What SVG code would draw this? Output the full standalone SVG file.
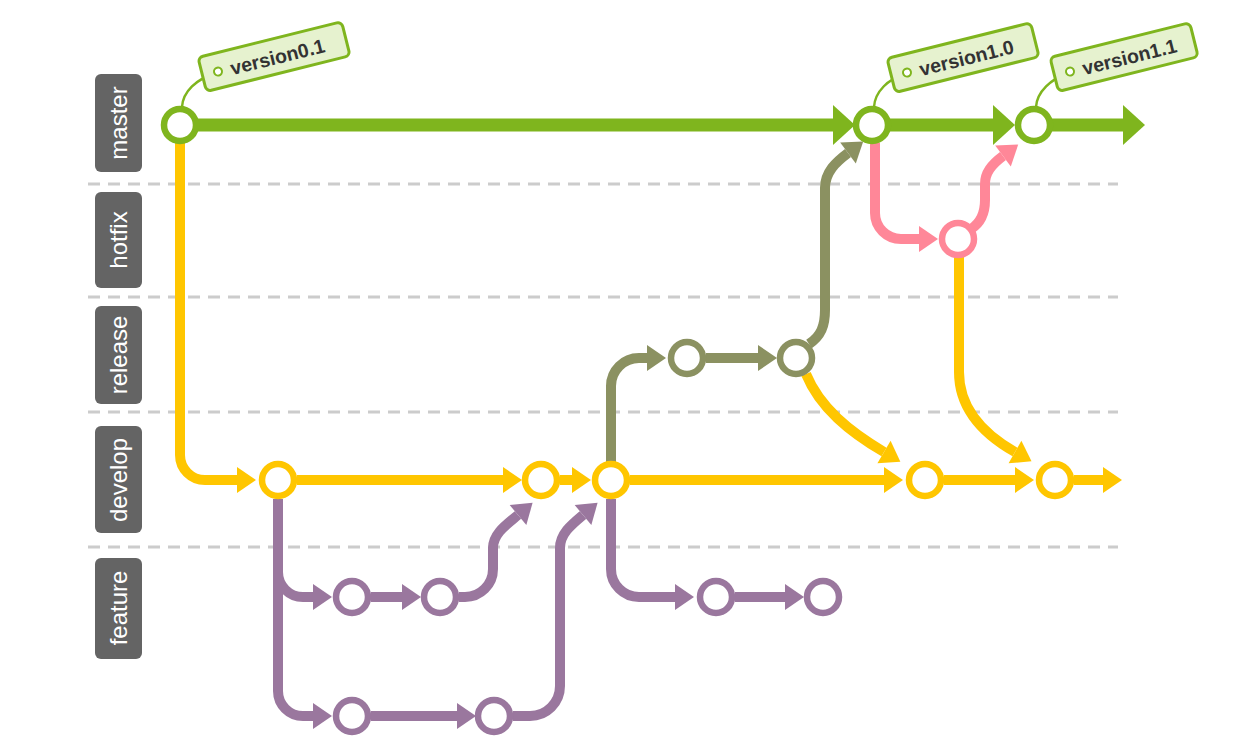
<svg xmlns="http://www.w3.org/2000/svg" width="1243" height="750" viewBox="0 0 1243 750">
<style>
.lane{fill:#646464}
.lanetxt{font-family:"Liberation Sans",Arial,sans-serif;font-size:24px;fill:#ffffff;text-anchor:middle}
.sep{stroke:#cccccc;stroke-width:3;stroke-dasharray:12 8;fill:none}
.c{fill:none;stroke-width:10;stroke-linecap:butt}
.m{stroke:#7fb51e;stroke-width:13}
.d{stroke:#ffc600}
.f{stroke:#9a779e}
.r{stroke:#8b9161}
.h{stroke:#ff8798}
.node{fill:#ffffff;stroke-width:6.5}
.nm{stroke:#7fb51e}.nd{stroke:#ffc600}.nf{stroke:#9a779e}.nr{stroke:#8b9161}.nh{stroke:#ff8798}
.tag rect{fill:#e6f2cf;stroke:#7fb51e;stroke-width:3}
.tag circle{fill:#ffffff;stroke:#7fb51e;stroke-width:2}
.tag text{font-family:"Liberation Sans",Arial,sans-serif;font-size:19.5px;font-weight:bold;fill:#333333}
.string{fill:none;stroke:#7fb51e;stroke-width:2.5}
</style>
<defs>
<marker id="am" markerUnits="userSpaceOnUse" markerWidth="24" markerHeight="42" refX="0" refY="20" orient="auto" overflow="visible"><path d="M0,0 L22,20 L0,40 Z" fill="#7fb51e"/></marker>
<marker id="ad" markerUnits="userSpaceOnUse" markerWidth="20" markerHeight="28" refX="0" refY="13" orient="auto" overflow="visible"><path d="M0,0 L19,13 L0,26 Z" fill="#ffc600"/></marker>
<marker id="af" markerUnits="userSpaceOnUse" markerWidth="20" markerHeight="28" refX="0" refY="13" orient="auto" overflow="visible"><path d="M0,0 L19,13 L0,26 Z" fill="#9a779e"/></marker>
<marker id="ar" markerUnits="userSpaceOnUse" markerWidth="20" markerHeight="28" refX="0" refY="13" orient="auto" overflow="visible"><path d="M0,0 L19,13 L0,26 Z" fill="#8b9161"/></marker>
<marker id="ah" markerUnits="userSpaceOnUse" markerWidth="20" markerHeight="28" refX="0" refY="13" orient="auto" overflow="visible"><path d="M0,0 L19,13 L0,26 Z" fill="#ff8798"/></marker>
</defs>
<rect width="1243" height="750" fill="#ffffff"/>

<g id="separators">
<line class="sep" x1="88" y1="184" x2="1118" y2="184"/>
<line class="sep" x1="88" y1="297" x2="1118" y2="297"/>
<line class="sep" x1="88" y1="412" x2="1118" y2="412"/>
<line class="sep" x1="88" y1="547" x2="1118" y2="547"/>
</g>

<g id="lane-master"><rect class="lane" x="95" y="74" width="47" height="98" rx="6"/><text class="lanetxt" transform="translate(127,123) rotate(-90)">master</text></g>
<g id="lane-hotfix"><rect class="lane" x="95" y="192" width="47" height="96" rx="6"/><text class="lanetxt" transform="translate(127,240) rotate(-90)">hotfix</text></g>
<g id="lane-release"><rect class="lane" x="95" y="306" width="47" height="98" rx="6"/><text class="lanetxt" transform="translate(127,355) rotate(-90)">release</text></g>
<g id="lane-develop"><rect class="lane" x="95" y="426" width="47" height="107" rx="6"/><text class="lanetxt" transform="translate(127,480) rotate(-90)">develop</text></g>
<g id="lane-feature"><rect class="lane" x="95" y="558" width="47" height="101" rx="6"/><text class="lanetxt" transform="translate(127,608) rotate(-90)">feature</text></g>

<g id="connectors">
<!-- master -->
<path class="c m" d="M198,125 H833" marker-end="url(#am)"/>
<path class="c m" d="M890,125 H993" marker-end="url(#am)"/>
<path class="c m" d="M1052,125 H1123" marker-end="url(#am)"/>
<!-- develop -->
<path class="c d" d="M180,143 V455 A25,25 0 0 0 205,480 H237" marker-end="url(#ad)"/>
<path class="c d" d="M297,480 H503" marker-end="url(#ad)"/>
<path class="c d" d="M560,480 H572" marker-end="url(#ad)"/>
<path class="c d" d="M630,480 H884" marker-end="url(#ad)"/>
<path class="c d" d="M944,480 H1015" marker-end="url(#ad)"/>
<path class="c d" d="M1074,480 H1103" marker-end="url(#ad)"/>
<path class="c d" d="M806,374 C820,408 850,432 884,452" marker-end="url(#ad)"/>
<path class="c d" d="M959,257 V372 C959,410 985,435 1015,452" marker-end="url(#ad)"/>
<!-- release -->
<path class="c r" d="M611,462 V386 A28,28 0 0 1 639,358 H647" marker-end="url(#ar)"/>
<path class="c r" d="M706,358 H758" marker-end="url(#ar)"/>
<path class="c r" d="M809,344 C821,336 825,326 825,310 V188 C825,172 836,162 848,153" marker-end="url(#ar)"/>
<!-- hotfix -->
<path class="c h" d="M875,143 V213 A26,26 0 0 0 901,239 H919" marker-end="url(#ah)"/>
<path class="c h" d="M971,229 C982,222 985,212 985,200 V184 C985,173 991,165 1003,156" marker-end="url(#ah)"/>
<!-- feature -->
<path class="c f" d="M278,499 V572 A25,25 0 0 0 303,597 H313" marker-end="url(#af)"/>
<path class="c f" d="M278,499 V691 A25,25 0 0 0 303,716 H313" marker-end="url(#af)"/>
<path class="c f" d="M371,597 H402" marker-end="url(#af)"/>
<path class="c f" d="M459,597 H465 A28,28 0 0 0 493,569 V548 C493,534 506,525 518,515" marker-end="url(#af)"/>
<path class="c f" d="M371,716 H457" marker-end="url(#af)"/>
<path class="c f" d="M513,716 H530 A30,30 0 0 0 560,686 V548 C560,534 571,525 583,515" marker-end="url(#af)"/>
<path class="c f" d="M611,499 V569 A28,28 0 0 0 639,597 H675" marker-end="url(#af)"/>
<path class="c f" d="M735,597 H785" marker-end="url(#af)"/>
<!-- tag strings -->
<path class="string" d="M182,107 C183,91 197,79 214,74"/>
<path class="string" d="M874,107 C875,91 889,79 903,75"/>
<path class="string" d="M1036,107 C1037,91 1052,79 1066,74"/>
</g>

<g id="n-master-1"><circle class="node nm" cx="180" cy="125" r="16"/></g>
<g id="n-master-2"><circle class="node nm" cx="872" cy="125" r="16"/></g>
<g id="n-master-3"><circle class="node nm" cx="1034" cy="125" r="16"/></g>
<g id="n-hotfix-1"><circle class="node nh" cx="958" cy="239" r="16"/></g>
<g id="n-release-1"><circle class="node nr" cx="687" cy="358" r="16"/></g>
<g id="n-release-2"><circle class="node nr" cx="796" cy="358" r="16"/></g>
<g id="n-develop-1"><circle class="node nd" cx="278" cy="480" r="16"/></g>
<g id="n-develop-2"><circle class="node nd" cx="541" cy="480" r="16"/></g>
<g id="n-develop-3"><circle class="node nd" cx="611" cy="480" r="16"/></g>
<g id="n-develop-4"><circle class="node nd" cx="925" cy="480" r="16"/></g>
<g id="n-develop-5"><circle class="node nd" cx="1055" cy="480" r="16"/></g>
<g id="n-feature-1"><circle class="node nf" cx="352" cy="597" r="16"/></g>
<g id="n-feature-2"><circle class="node nf" cx="440" cy="597" r="16"/></g>
<g id="n-feature-3"><circle class="node nf" cx="716" cy="597" r="16"/></g>
<g id="n-feature-4"><circle class="node nf" cx="823" cy="597" r="16"/></g>
<g id="n-feature-5"><circle class="node nf" cx="352" cy="716" r="16"/></g>
<g id="n-feature-6"><circle class="node nf" cx="494" cy="716" r="16"/></g>

<g id="tag-v01" class="tag" transform="translate(198,57.5) rotate(-14)"><rect x="0" y="0" width="148" height="35" rx="5"/><circle cx="16" cy="18.5" r="4"/><text x="29" y="25.5">version0.1</text></g>
<g id="tag-v10" class="tag" transform="translate(887,58.5) rotate(-14)"><rect x="0" y="0" width="148" height="35" rx="5"/><circle cx="16" cy="18.5" r="4"/><text x="29" y="25.5">version1.0</text></g>
<g id="tag-v11" class="tag" transform="translate(1050,57.5) rotate(-14)"><rect x="0" y="0" width="144" height="35" rx="5"/><circle cx="16" cy="18.5" r="4"/><text x="29" y="25.5">version1.1</text></g>
</svg>
